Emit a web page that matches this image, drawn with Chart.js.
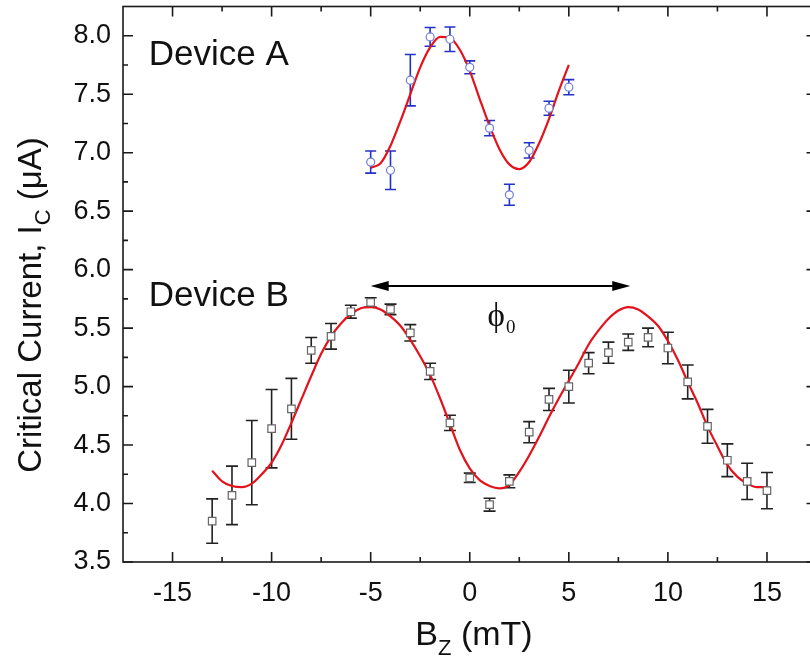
<!DOCTYPE html>
<html>
<head>
<meta charset="utf-8">
<script src="https://cdn.jsdelivr.net/npm/chart.js@4.4.0/dist/chart.umd.min.js"></script>
<style>
  html, body { margin: 0; padding: 0; background: #fff; overflow: hidden; }
  canvas { display: block; }
</style>
</head>
<body>
<!-- a bit wider than the window: the reference crops the right axis off -->
<canvas id="chart" width="823" height="663"></canvas>
<script>
// Device A measurements (blue circles)
const bzA = [-5, -4, -3, -2, -1, 0, 1, 2, 3, 4, 5];
const icA = [6.92, 6.85, 7.62, 7.99, 7.97, 7.73, 7.21, 6.64, 7.02, 7.38, 7.56];
const errA = [0.095, 0.165, 0.22, 0.08, 0.105, 0.055, 0.065, 0.09, 0.065, 0.06, 0.065];

// Device A fit (red)
const fitAx = [-5, -4.5, -4, -3.5, -3, -2.5, -2, -1.5, -1, -0.5, 0, 0.5, 1, 1.5, 2, 2.5, 3, 3.5, 4, 4.5, 5];
const fitAy = [6.87, 6.91, 7.06, 7.27, 7.50, 7.73, 7.90, 7.99, 7.98, 7.88, 7.70, 7.46, 7.23, 7.03, 6.90, 6.86, 6.92, 7.08, 7.29, 7.53, 7.75];

// Device B measurements (black squares)
const bzB = [-13, -12, -11, -10, -9, -8, -7, -6, -5, -4, -3, -2, -1, 0, 1, 2, 3, 4, 5, 6, 7, 8, 9, 10, 11, 12, 13, 14, 15];
const icB = [3.85, 4.07, 4.35, 4.64, 4.81, 5.31, 5.43, 5.64, 5.72, 5.66, 5.46, 5.13, 4.69, 4.22, 3.99, 4.19, 4.61, 4.89, 5.00, 5.20, 5.29, 5.38, 5.42, 5.33, 5.04, 4.66, 4.37, 4.19, 4.11];
const errB = [0.19, 0.25, 0.36, 0.335, 0.26, 0.11, 0.11, 0.055, 0.04, 0.045, 0.07, 0.07, 0.065, 0.04, 0.055, 0.055, 0.09, 0.095, 0.14, 0.09, 0.09, 0.07, 0.08, 0.135, 0.145, 0.145, 0.14, 0.155, 0.155];

// Device B fit (red)
const fitBx = [-13, -12.5, -12, -11.5, -11, -10.5, -10, -9.5, -9, -8.5, -8, -7.5, -7, -6.5, -6, -5.5, -5, -4.5, -4, -3.5, -3, -2.5, -2, -1.5, -1, -0.5, 0, 0.5, 1, 1.5, 2, 2.5, 3, 3.5, 4, 4.5, 5, 5.5, 6, 6.5, 7, 7.5, 8, 8.5, 9, 9.5, 10, 10.5, 11, 11.5, 12, 12.5, 13, 13.5, 14, 14.5, 15];
const fitBy = [4.28, 4.19, 4.15, 4.14, 4.17, 4.25, 4.35, 4.50, 4.69, 4.89, 5.09, 5.28, 5.43, 5.54, 5.62, 5.67, 5.68, 5.66, 5.60, 5.52, 5.40, 5.26, 5.10, 4.90, 4.68, 4.46, 4.30, 4.20, 4.15, 4.13, 4.16, 4.27, 4.41, 4.57, 4.74, 4.90, 5.05, 5.20, 5.36, 5.48, 5.58, 5.65, 5.68, 5.66, 5.60, 5.52, 5.39, 5.23, 5.04, 4.86, 4.66, 4.49, 4.33, 4.23, 4.17, 4.14, 4.14];

// axes
const xTicks = [-15, -10, -5, 0, 5, 10, 15];
const xMinor = [-12.5, -7.5, -2.5, 2.5, 7.5, 12.5];
const yTicks = [3.5, 4.0, 4.5, 5.0, 5.5, 6.0, 6.5, 7.0, 7.5, 8.0];
const yMinor = [3.75, 4.25, 4.75, 5.25, 5.75, 6.25, 6.75, 7.25, 7.75];

// annotations
const phiArrowX = [-5, 8.1];
const phiArrowY = 5.86;
const deviceLabels = ['Device A', 'Device B'];
const deviceLabelX = [-16.2, -16.2];
const deviceLabelY = [7.753, 5.69];

const SANS = '"Liberation Sans", Arial, Helvetica, sans-serif';
const SERIF = '"Liberation Serif", "Times New Roman", serif';
const INK = '#111';

const toPts = (xs, ys) => xs.map((x, i) => ({ x: x, y: ys[i] }));

function drawErrorBars(ctx, xs, ys, xv, yv, err, color, cap) {
    ctx.save();
    ctx.strokeStyle = color;
    ctx.lineWidth = 1.6;
    xv.forEach((v, i) => {
        const px = xs.getPixelForValue(v);
        const top = ys.getPixelForValue(yv[i] + err[i]);
        const bot = ys.getPixelForValue(yv[i] - err[i]);
        ctx.beginPath();
        ctx.moveTo(px, top); ctx.lineTo(px, bot);
        ctx.moveTo(px - cap, top); ctx.lineTo(px + cap, top);
        ctx.moveTo(px - cap, bot); ctx.lineTo(px + cap, bot);
        ctx.stroke();
    });
    ctx.restore();
}

// keep the plot box where the reference has it (no label overhang padding)
function fixBox(s, size) {
    if (s.isHorizontal()) s.height = size; else s.width = size;
    s.paddingTop = 0; s.paddingBottom = 0;
    s.paddingLeft = 0; s.paddingRight = 0;
}

const decorPlugin = {
    id: 'decor',
    beforeDatasetsDraw(chart) {
        const ctx = chart.ctx;
        const xs = chart.scales.x, ys = chart.scales.y;
        drawErrorBars(ctx, xs, ys, bzA, icA, errA, '#2232c8', 5.5);
        drawErrorBars(ctx, xs, ys, bzB, icB, errB, '#222', 6);
    },
    afterDraw(chart) {
        const ctx = chart.ctx;
        const a = chart.chartArea;
        const xs = chart.scales.x, ys = chart.scales.y;
        ctx.save();

        // frame
        ctx.strokeStyle = '#1a1a1a';
        ctx.lineWidth = 1.6;
        ctx.strokeRect(a.left, a.top, a.right - a.left, a.bottom - a.top);

        // inward tick marks on all four sides
        ctx.beginPath();
        const xTick = (v, len) => {
            const px = xs.getPixelForValue(v);
            ctx.moveTo(px, a.bottom); ctx.lineTo(px, a.bottom - len);
            ctx.moveTo(px, a.top); ctx.lineTo(px, a.top + len);
        };
        const yTick = (v, len) => {
            const py = ys.getPixelForValue(v);
            ctx.moveTo(a.left, py); ctx.lineTo(a.left + len, py);
            ctx.moveTo(a.right, py); ctx.lineTo(a.right - len, py);
        };
        xTicks.forEach(v => xTick(v, 10));
        xMinor.forEach(v => xTick(v, 5));
        yTicks.forEach(v => yTick(v, 10));
        yMinor.forEach(v => yTick(v, 5));
        ctx.stroke();

        // phi0 arrow
        const x0 = xs.getPixelForValue(phiArrowX[0]);
        const x1 = xs.getPixelForValue(phiArrowX[1]);
        const ay = ys.getPixelForValue(phiArrowY);
        ctx.strokeStyle = '#000';
        ctx.fillStyle = '#000';
        ctx.lineWidth = 2;
        ctx.beginPath();
        ctx.moveTo(x0 + 10, ay); ctx.lineTo(x1 - 10, ay);
        ctx.stroke();
        ctx.beginPath();
        ctx.moveTo(x0, ay); ctx.lineTo(x0 + 18, ay - 5); ctx.lineTo(x0 + 18, ay + 5); ctx.closePath();
        ctx.moveTo(x1, ay); ctx.lineTo(x1 - 18, ay - 5); ctx.lineTo(x1 - 18, ay + 5); ctx.closePath();
        ctx.fill();

        // phi0 label
        ctx.fillStyle = INK;
        ctx.textAlign = 'left';
        ctx.textBaseline = 'alphabetic';
        ctx.font = '33px ' + SERIF;
        const phiX = xs.getPixelForValue(0.9);
        const phiY = ys.getPixelForValue(5.52);
        ctx.fillText('\u03D5', phiX, phiY);
        const pw = ctx.measureText('\u03D5').width;
        ctx.font = '19px ' + SERIF;
        ctx.fillText('0', phiX + pw + 1, phiY + 7);

        // device labels
        ctx.font = '35px ' + SANS;
        deviceLabels.forEach((t, i) => {
            ctx.fillText(t, xs.getPixelForValue(deviceLabelX[i]), ys.getPixelForValue(deviceLabelY[i]));
        });

        // x axis title: B_Z (mT)
        const big = '34px ' + SANS, small = '22px ' + SANS;
        ctx.font = big; const wB = ctx.measureText('B').width;
        ctx.font = small; const wZ = ctx.measureText('Z').width;
        ctx.font = big; const wR = ctx.measureText(' (mT)').width;
        let tx = 474 - (wB + wZ + wR) / 2;
        const tb = 645;
        ctx.font = big; ctx.fillText('B', tx, tb); tx += wB;
        ctx.font = small; ctx.fillText('Z', tx, tb + 10); tx += wZ;
        ctx.font = big; ctx.fillText(' (mT)', tx, tb);

        // y axis title: Critical Current, I_C (µA)
        const yBig = '33px ' + SANS;
        ctx.translate(41, 305);
        ctx.rotate(-Math.PI / 2);
        const p1 = 'Critical Current, I', p2 = 'C', p3 = ' (\u03BCA)';
        ctx.font = yBig; const w1 = ctx.measureText(p1).width, w3 = ctx.measureText(p3).width;
        ctx.font = small; const w2 = ctx.measureText(p2).width;
        let ry = -(w1 + w2 + w3) / 2;
        ctx.font = yBig; ctx.fillText(p1, ry, 0); ry += w1;
        ctx.font = small; ctx.fillText(p2, ry, 9); ry += w2;
        ctx.font = yBig; ctx.fillText(p3, ry, 0);

        ctx.restore();
    }
};

new Chart(document.getElementById('chart'), {
    type: 'scatter',
    data: {
        datasets: [
            {
                label: 'Device A',
                data: toPts(bzA, icA),
                pointStyle: 'circle',
                pointRadius: 4,
                pointBorderWidth: 1.2,
                pointBorderColor: '#6e7ed6',
                pointBackgroundColor: '#fff',
                order: 0
            },
            {
                label: 'Device B',
                data: toPts(bzB, icB),
                pointStyle: 'rect',
                pointRadius: 5.3,
                pointBorderWidth: 1.2,
                pointBorderColor: '#666',
                pointBackgroundColor: '#fff',
                order: 0
            },
            {
                label: 'Fit A',
                data: toPts(fitAx, fitAy),
                showLine: true,
                pointRadius: 0,
                borderColor: '#e3121b',
                borderWidth: 2.2,
                cubicInterpolationMode: 'monotone',
                order: 1
            },
            {
                label: 'Fit B',
                data: toPts(fitBx, fitBy),
                showLine: true,
                pointRadius: 0,
                borderColor: '#e3121b',
                borderWidth: 2.2,
                cubicInterpolationMode: 'monotone',
                order: 1
            }
        ]
    },
    options: {
        responsive: false,
        animation: false,
        events: [],
        layout: { padding: { top: 5, right: 2, left: 0, bottom: 0 } },
        plugins: {
            legend: { display: false },
            tooltip: { enabled: false }
        },
        scales: {
            x: {
                type: 'linear',
                min: -17.5,
                max: 17.5,
                afterBuildTicks: s => { s.ticks = xTicks.map(v => ({ value: v })); },
                afterFit: s => fixBox(s, 101),
                grid: { display: false, drawTicks: false },
                border: { display: false },
                ticks: {
                    autoSkip: false,
                    maxRotation: 0,
                    padding: 15,
                    color: INK,
                    font: { family: SANS, size: 27 }
                }
            },
            y: {
                type: 'linear',
                min: 3.5,
                max: 8.25,
                afterBuildTicks: s => { s.ticks = yTicks.map(v => ({ value: v })); },
                afterFit: s => fixBox(s, 123),
                grid: { display: false, drawTicks: false },
                border: { display: false },
                ticks: {
                    padding: 12,
                    color: INK,
                    font: { family: SANS, size: 27 },
                    callback: v => v.toFixed(1)
                }
            }
        }
    },
    plugins: [decorPlugin]
});
</script>
</body>
</html>
